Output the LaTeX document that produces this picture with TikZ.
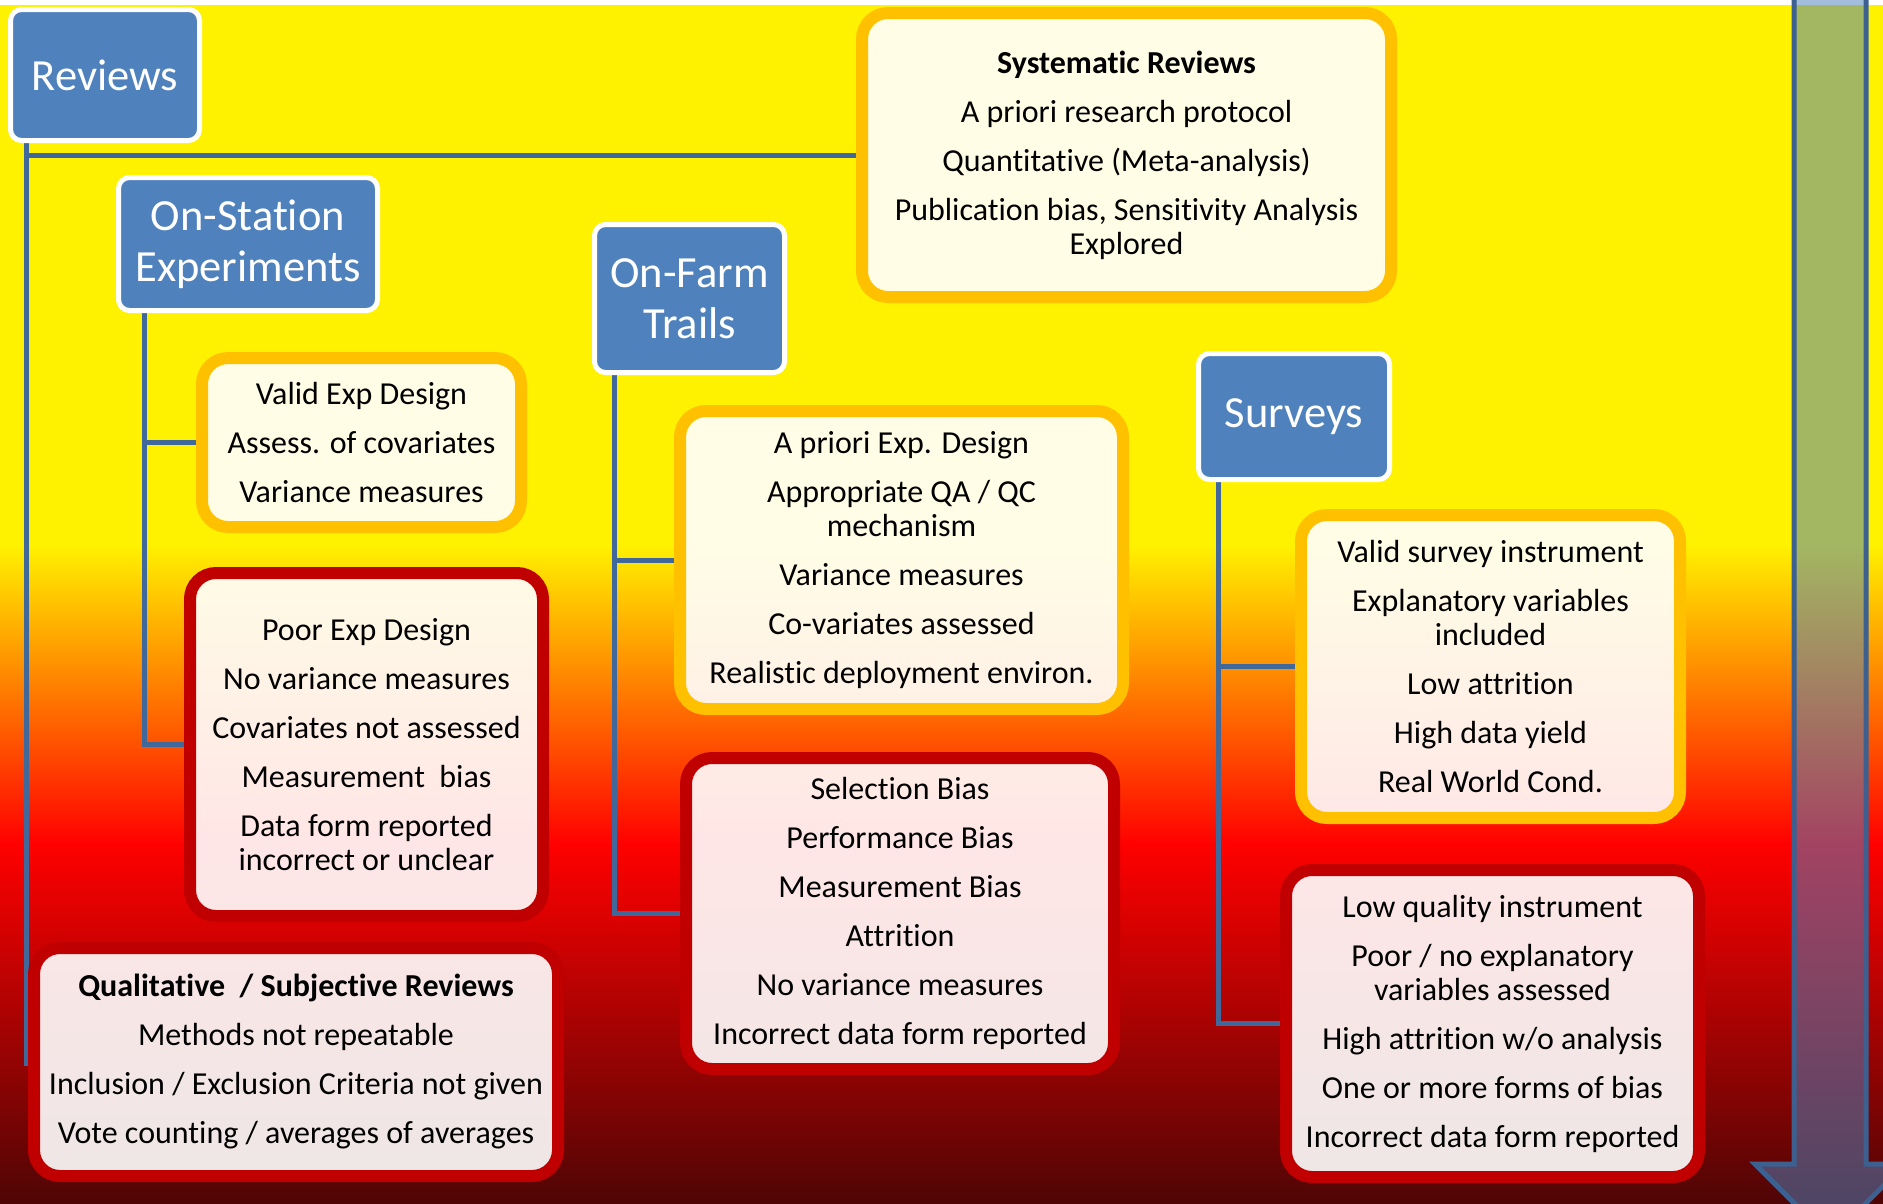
\documentclass[tikz,border=0pt]{standalone}
\usepackage{fontspec}
\setmainfont{Carlito}[Ligatures=NoCommon]
\definecolor{bgyellow}{HTML}{FFF200}
\definecolor{bgred}{HTML}{FF0000}
\definecolor{bgdark}{HTML}{4F0505}
\definecolor{headblue}{HTML}{4F81BD}
\definecolor{linkblue}{HTML}{41689A}
\definecolor{arrowrim}{HTML}{3C6190}
\definecolor{goodrim}{HTML}{FFC000}
\definecolor{badrim}{HTML}{C00000}
\pgfdeclarelayer{backdrop}
\pgfdeclarelayer{links}
\pgfsetlayers{backdrop,links,main}
\begin{document}
\begin{tikzpicture}[x=1pt,y=-1pt,
  conn/.style={draw=linkblue, line width=5pt},
  head/.style={draw=white, line width=5pt, fill=headblue, rounded corners=11pt,
    text=white, font=\fontsize{44.5}{51}\selectfont, align=center, inner sep=0pt},
  card/.style={line width=12pt, fill=white, fill opacity=0.9, draw opacity=1,
    text opacity=1, rounded corners=26pt, align=center, inner sep=0pt,
    font=\fontsize{32}{34}\selectfont},
  good/.style={card, draw=goodrim},
  bad/.style={card, draw=badrim},
]
\useasboundingbox (0,0) rectangle (1883,1203);

% background: white strip, then yellow -> red -> dark red, and the arrow
\begin{pgfonlayer}{backdrop}
\begin{scope}
\clip (0,0) rectangle (1883,1203);
\fill[white] (0,0) rectangle (1883,5);
\fill[bgyellow] (0,5) rectangle (1883,545);
\shade[top color=bgyellow, bottom color=bgred] (0,544) rectangle (1883,845);
\shade[top color=bgred, bottom color=bgdark] (0,844) rectangle (1883,1203);
\filldraw[draw=arrowrim, line width=5pt, fill=headblue, fill opacity=0.52, draw opacity=1]
  (1794,-20) -- (1866,-20) -- (1866,1164) -- (1905,1164) -- (1830,1239)
  -- (1755,1164) -- (1794,1164) -- cycle;
\end{scope}
\end{pgfonlayer}

% category headers
\node[head, minimum width=189pt, minimum height=131pt] (reviews) at (105,75) {Reviews};
\node[head, minimum width=259pt, minimum height=133pt] (onstation) at (248,244) {On-Station\\Experiments};
\node[head, minimum width=190pt, minimum height=148pt] (onfarm) at (689.5,298.5) {On-Farm\\Trails};
\node[head, minimum width=191pt, minimum height=126pt] (surveys) at (1294,416.5) {Surveys};

% tops of the trunks
\coordinate (rvtrunk) at ([xshift=18pt]reviews.south west);
\coordinate (sttrunk) at ([xshift=28pt]onstation.south west);
\coordinate (fmtrunk) at ([xshift=22pt]onfarm.south west);
\coordinate (svtrunk) at ([xshift=22pt]surveys.south west);

% quality cards
\node[good, minimum width=529pt, minimum height=284pt] (sysrev) at (1126.5,155)
  {{\bfseries Systematic Reviews}\\[15pt]
   A priori research protocol\\[15pt]
   Quantitative (Meta-analysis)\\[15pt]
   Publication bias, Sensitivity Analysis\\Explored};

\node[good, minimum width=319pt, minimum height=169pt] (stgood) at (361.5,442.5)
  {Valid Exp Design\\[15pt]
   Assess. of covariates\\[15pt]
   Variance measures};

\node[bad, minimum width=353pt, minimum height=343pt] (stbad) at (366.5,744.5)
  {Poor Exp Design\\[15pt]
   No variance measures\\[15pt]
   Covariates not assessed\\[15pt]
   Measurement~~bias\\[15pt]
   Data form reported\\incorrect or unclear};

\node[bad, minimum width=524pt, minimum height=228pt] (qual) at (296,1062)
  {{\bfseries Qualitative~~/ Subjective Reviews}\\[15pt]
   Methods not repeatable\\[15pt]
   Inclusion / Exclusion Criteria not given\\[15pt]
   Vote counting / averages of averages};

\node[good, minimum width=443pt, minimum height=298pt] (fmgood) at (901.5,560)
  {A priori Exp. Design\\[15pt]
   Appropriate QA / QC\\mechanism\\[15pt]
   Variance measures\\[15pt]
   Co-variates assessed\\[15pt]
   Realistic deployment environ.};

\node[bad, minimum width=428pt, minimum height=311pt] (fmbad) at (900,913.5)
  {Selection Bias\\[15pt]
   Performance Bias\\[15pt]
   Measurement Bias\\[15pt]
   Attrition\\[15pt]
   No variance measures\\[15pt]
   Incorrect data form reported};

\node[good, minimum width=379pt, minimum height=303pt] (svgood) at (1490.5,666.5)
  {Valid survey instrument\\[15pt]
   Explanatory variables\\included\\[15pt]
   Low attrition\\[15pt]
   High data yield\\[15pt]
   Real World Cond.};

\node[bad, minimum width=413pt, minimum height=307pt] (svbad) at (1492.5,1023.5)
  {Low quality instrument\\[15pt]
   Poor / no explanatory\\variables assessed\\[15pt]
   High attrition w/o analysis\\[15pt]
   One or more forms of bias\\[15pt]
   Incorrect data form reported};

% connectors, kept behind the boxes
\begin{pgfonlayer}{links}
\draw[conn] (rvtrunk) -- ([yshift=-4pt]rvtrunk |- qual.west);
\draw[conn] (rvtrunk |- sysrev.west) -- (sysrev.west);
\draw[conn] (sttrunk) |- (stbad.west);
\draw[conn] (sttrunk |- stgood.west) -- (stgood.west);
\draw[conn] (fmtrunk) |- (fmbad.west);
\draw[conn] (fmtrunk |- fmgood.west) -- (fmgood.west);
\draw[conn] (svtrunk) |- (svbad.west);
\draw[conn] (svtrunk |- svgood.west) -- (svgood.west);
\end{pgfonlayer}
\end{tikzpicture}
\end{document}
